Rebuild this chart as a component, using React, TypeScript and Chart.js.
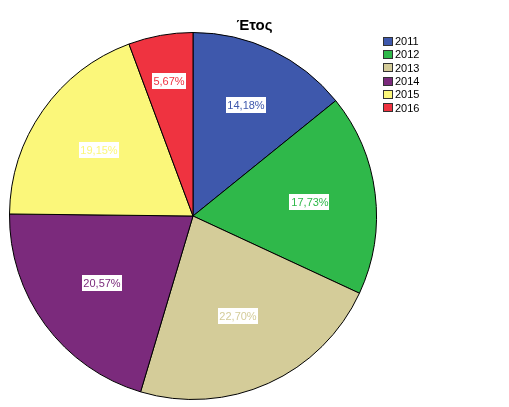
import React, { useEffect, useRef } from "react";
import { Chart, registerables } from "chart.js";

Chart.register(...registerables);

const titleText = "Έτος";
const categories = ["2011", "2012", "2013", "2014", "2015", "2016"];
const counts = [20, 25, 32, 29, 27, 8];
const colors = ["#3e58ac", "#2fb84a", "#d4cc99", "#7b2a7c", "#fbf77a", "#ef3340"];

const FONT = "'Liberation Sans', Arial, sans-serif";

const overlayPlugin = {
  id: "overlay",
  afterDraw(chart: any) {
    const ctx = chart.ctx as CanvasRenderingContext2D;
    const meta = chart.getDatasetMeta(0);
    const total = counts.reduce((a, b) => a + b, 0);
    ctx.save();
    // slice labels
    ctx.font = `11px ${FONT}`;
    ctx.textBaseline = "middle";
    ctx.textAlign = "center";
    meta.data.forEach((arc: any, i: number) => {
      const p = arc.getProps(["x", "y", "startAngle", "endAngle", "outerRadius"], true);
      const share = counts[i] / total;
      const mid = (p.startAngle + p.endAngle) / 2;
      const r = p.outerRadius * (0.8 - 0.9 * share);
      const cx = p.x + Math.cos(mid) * r;
      const cy = p.y + Math.sin(mid) * r;
      const txt = (share * 100).toFixed(2).replace(".", ",") + "%";
      const w = ctx.measureText(txt).width + 3;
      const h = 16;
      ctx.fillStyle = "#ffffff";
      ctx.fillRect(Math.round(cx - w / 2), Math.round(cy - h / 2), Math.round(w), h);
      ctx.fillStyle = colors[i];
      ctx.fillText(txt, Math.round(cx), Math.round(cy) + 1);
    });
    // title
    ctx.font = `bold 15px ${FONT}`;
    ctx.fillStyle = "#000";
    ctx.textAlign = "center";
    ctx.textBaseline = "alphabetic";
    ctx.fillText(titleText, chart.width / 2, 30);
    // legend
    ctx.font = `11px ${FONT}`;
    ctx.textAlign = "left";
    ctx.textBaseline = "middle";
    categories.forEach((c, i) => {
      const y = 41 + i * 13.35;
      ctx.fillStyle = colors[i];
      ctx.fillRect(383, Math.round(y - 4.5), 10, 9);
      ctx.strokeStyle = "#333";
      ctx.lineWidth = 1;
      ctx.strokeRect(383.5, Math.round(y - 4.5) + 0.5, 9, 8);
      ctx.fillStyle = "#000";
      ctx.fillText(c, 395, Math.round(y) + 1);
    });
    ctx.restore();
  },
};

export default function App() {
  const ref = useRef<HTMLCanvasElement>(null);
  useEffect(() => {
    document.body.style.margin = "0";
    const chart = new Chart(ref.current!, {
      type: "pie",
      data: {
        labels: categories,
        datasets: [
          {
            data: counts,
            backgroundColor: colors,
            borderColor: "#000000",
            borderWidth: 1,
          },
        ],
      },
      options: {
        responsive: false,
        animation: false,
        devicePixelRatio: 1,
        layout: { padding: { left: 9, right: 132, top: 32, bottom: 7 } },
        plugins: {
          legend: { display: false },
          tooltip: { enabled: false },
          title: { display: false },
        },
      },
      plugins: [overlayPlugin],
    });
    return () => chart.destroy();
  }, []);
  return (
    <div style={{ width: 509, height: 407, background: "#fff" }}>
      <canvas ref={ref} width={509} height={407} />
    </div>
  );
}
